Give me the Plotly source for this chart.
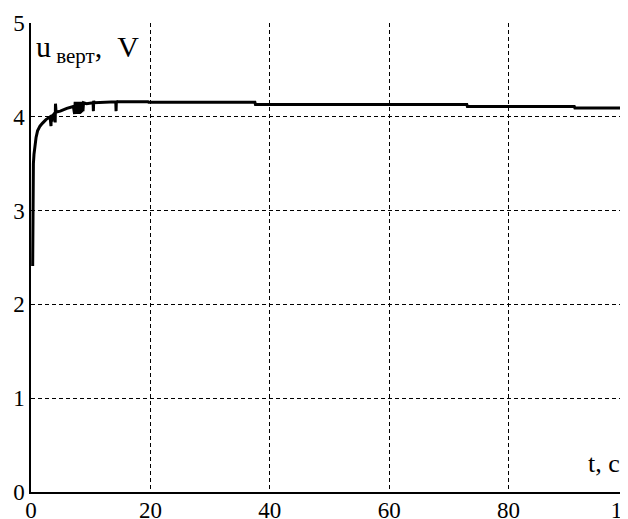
import plotly.graph_objects as go

# time, s
t_vals = [0.28, 0.30, 0.33, 0.40, 0.50, 0.65, 0.85, 1.1, 1.5, 1.9, 2.5,
          3.2, 3.35, 3.4, 3.5, 3.6, 4.0, 4.05, 4.1, 4.2, 4.9, 6.0, 7.1,
          7.3, 7.4, 7.5, 7.6, 7.7, 7.8, 7.9, 8.0, 8.1, 8.2, 8.3, 8.4, 8.5,
          8.6, 8.7, 8.8, 9.3, 10.4, 10.45, 10.5, 10.6, 12.0, 14.2, 14.25,
          14.3, 14.4, 19.6, 19.7, 37.5, 37.6, 73.0, 73.1, 91.0, 91.1, 100.0]
# vertical voltage, V
u_vals = [2.41, 3.0, 3.35, 3.50, 3.60, 3.70, 3.78, 3.85, 3.90, 3.93, 3.97,
          4.00, 3.90, 4.02, 3.95, 4.01, 4.04, 3.94, 4.14, 4.05, 4.06, 4.09, 4.11,
          4.03, 4.16, 4.04, 4.16, 4.03, 4.16, 4.04, 4.16, 4.03, 4.16, 4.04, 4.16, 4.05,
          4.16, 4.06, 4.15, 4.14, 4.15, 4.06, 4.17, 4.15, 4.155, 4.16, 4.06,
          4.17, 4.16, 4.16, 4.155, 4.155, 4.13, 4.13, 4.11, 4.11, 4.095, 4.095]

x_ticks = [0, 20, 40, 60, 80, 100]
y_ticks = [0, 1, 2, 3, 4, 5]

fig = go.Figure()
fig.add_trace(go.Scatter(x=t_vals, y=u_vals, mode="lines",
                         line=dict(color="black", width=3), showlegend=False,
                         hoverinfo="skip"))

serif = "Liberation Serif, Times New Roman, serif"
tick_font = dict(family=serif, size=23, color="black")

# page body has an 8px default margin, so the figure is offset by 8px
fig.update_layout(
    width=628, height=511,
    margin=dict(l=23, r=8, t=15, b=27),
    paper_bgcolor="white", plot_bgcolor="white",
    font=tick_font,
    xaxis=dict(range=[0, 100], tickvals=x_ticks, ticktext=[str(v) for v in x_ticks],
               showgrid=True, gridcolor="black", gridwidth=1, griddash="4px,3px",
               zeroline=False, showline=True, linecolor="black", linewidth=1.5,
               ticks="", ticklabelstandoff=-3, tickfont=tick_font, fixedrange=True,
               automargin=False, ticklabeloverflow="allow"),
    yaxis=dict(range=[0, 5], tickvals=y_ticks, ticktext=[str(v) for v in y_ticks],
               showgrid=True, gridcolor="black", gridwidth=1, griddash="4px,3px",
               zeroline=False, showline=True, linecolor="black", linewidth=1.5,
               ticks="", ticklabelstandoff=0, tickfont=tick_font, fixedrange=True,
               automargin=False, ticklabeloverflow="allow"),
    annotations=[
        dict(text="u<sub> верт</sub>,&nbsp; V", xref="paper", yref="paper",
             x=0.005, y=0.99, xanchor="left", yanchor="top", showarrow=False,
             font=dict(family=serif, size=30, color="black")),
        dict(text="t, c", xref="paper", yref="paper",
             x=0.99, y=0.025, xanchor="right", yanchor="bottom", showarrow=False,
             font=dict(family=serif, size=26, color="black")),
    ],
)

fig.write_html("out.html")
